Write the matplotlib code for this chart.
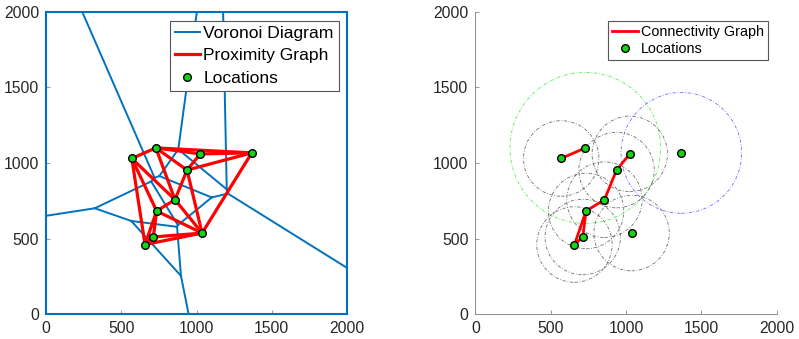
import numpy as np
import matplotlib
matplotlib.use("Agg")
import matplotlib.pyplot as plt
import matplotlib.tri as mtri
from matplotlib.patches import Circle

plt.rcParams['font.family'] = ['Liberation Sans', 'DejaVu Sans']

# sensor locations
loc_x = [570, 730, 1025, 1367, 937, 857, 735, 1037, 713, 658]
loc_y = [1030, 1100, 1060, 1067, 953, 757, 682, 536, 510, 460]

# sensing radius of each location (right panel circles)
radius = [250, 500, 250, 400, 250, 250, 250, 250, 250, 250]
circle_kind = ['k', 'g', 'k', 'b', 'k', 'k', 'k', 'k', 'k', 'k']

# connectivity graph edges (index pairs)
conn_edges = [(0, 1), (2, 4), (4, 5), (5, 6), (6, 8), (6, 9), (8, 9)]

ticks = [0, 500, 1000, 1500, 2000]

BLUE = '#0072BD'
GREEN = '#14d414'
circle_colors = {'k': (0.25, 0.25, 0.25, 0.75), 'g': (0.2, 0.9, 0.2, 0.8), 'b': (0.3, 0.3, 1.0, 0.8)}

x = np.array(loc_x, dtype=float)
y = np.array(loc_y, dtype=float)
tri = mtri.Triangulation(x, y)


def circumcenter(i):
    a, b, c = tri.triangles[i]
    ax_, ay_ = x[a], y[a]
    bx, by = x[b], y[b]
    cx, cy = x[c], y[c]
    d = 2 * (ax_ * (by - cy) + bx * (cy - ay_) + cx * (ay_ - by))
    ux = ((ax_**2 + ay_**2) * (by - cy) + (bx**2 + by**2) * (cy - ay_) + (cx**2 + cy**2) * (ay_ - by)) / d
    uy = ((ax_**2 + ay_**2) * (cx - bx) + (bx**2 + by**2) * (ax_ - cx) + (cx**2 + cy**2) * (bx - ax_)) / d
    return np.array([ux, uy])


centers = np.array([circumcenter(i) for i in range(len(tri.triangles))])
vor_segs = []
for i, t in enumerate(tri.triangles):
    for j in range(3):
        nb = tri.neighbors[i, j]
        a, b, c = t[j], t[(j + 1) % 3], t[(j + 2) % 3]
        if nb == -1:
            # open Voronoi edge: ray leaving the hull
            n = np.array([-(y[b] - y[a]), x[b] - x[a]])
            mid = np.array([(x[a] + x[b]) / 2, (y[a] + y[b]) / 2])
            if np.dot(n, mid - np.array([x[c], y[c]])) < 0:
                n = -n
            n = n / np.linalg.norm(n)
            vor_segs.append((centers[i], centers[i] + n * 20000))
        elif nb > i:
            vor_segs.append((centers[i], centers[nb]))

fig = plt.figure(figsize=(7.99, 3.39), dpi=100)
ax1 = fig.add_axes([0.0576, 0.0737, 0.3767, 0.891])
ax2 = fig.add_axes([0.5949, 0.0737, 0.3772, 0.891])

# left: Voronoi + proximity graph
for k, (p, q) in enumerate(vor_segs):
    ax1.plot([p[0], q[0]], [p[1], q[1]], color=BLUE, lw=1.4, zorder=2,
             label='Voronoi Diagram' if k == 0 else None)
for k, (a, b) in enumerate(tri.edges):
    ax1.plot([x[a], x[b]], [y[a], y[b]], color='red', lw=2.3, zorder=3,
             label='Proximity Graph' if k == 0 else None)
ax1.plot(x, y, 'o', color=GREEN, mec='black', mew=1.0, ms=5.5, ls='none', zorder=4, label='Locations')

# right: sensing circles + connectivity graph
for xi, yi, r, kind in zip(x, y, radius, circle_kind):
    ax2.add_patch(Circle((xi, yi), r, fill=False, ec=circle_colors[kind], lw=0.6,
                         ls=(0, (4, 2, 1, 2)), zorder=1))
for k, (a, b) in enumerate(conn_edges):
    ax2.plot([x[a], x[b]], [y[a], y[b]], color='red', lw=2.0, zorder=3,
             label='Connectivity Graph' if k == 0 else None)
ax2.plot(x, y, 'o', color=GREEN, mec='black', mew=1.0, ms=5.5, ls='none', zorder=4, label='Locations')

for ax in (ax1, ax2):
    ax.set_xlim(0, 2000)
    ax.set_ylim(0, 2000)
    ax.set_xticks(ticks)
    ax.set_yticks(ticks)
    ax.tick_params(direction='in', length=3, width=0.6, color='#888888', labelsize=11.3,
                   labelcolor='#262626', pad=5)

for s in ax1.spines.values():
    s.set_color(BLUE)
    s.set_linewidth(1.5)
    s.set_zorder(5)

ax2.spines['top'].set_visible(False)
ax2.spines['right'].set_visible(False)
for s in ('left', 'bottom'):
    ax2.spines[s].set_color('#8c8c8c')
    ax2.spines[s].set_linewidth(0.7)

leg1 = ax1.legend(loc='upper right', bbox_to_anchor=(0.9734, 0.9712), borderaxespad=0,
                  fontsize=12.6, handlelength=1.43, handletextpad=0.2, borderpad=0.3,
                  labelspacing=0.4, fancybox=False, framealpha=1, numpoints=1)
leg1.get_frame().set_edgecolor('#555555')
leg1.get_frame().set_linewidth(0.8)

leg2 = ax2.legend(loc='upper right', bbox_to_anchor=(0.9721, 0.9712), borderaxespad=0,
                  fontsize=10.4, handlelength=1.78, handletextpad=0.2, borderpad=0.3,
                  labelspacing=0.2, fancybox=False, framealpha=1, numpoints=1)
leg2.get_frame().set_edgecolor('#555555')
leg2.get_frame().set_linewidth(0.8)

fig.savefig('out.png', dpi=100)
